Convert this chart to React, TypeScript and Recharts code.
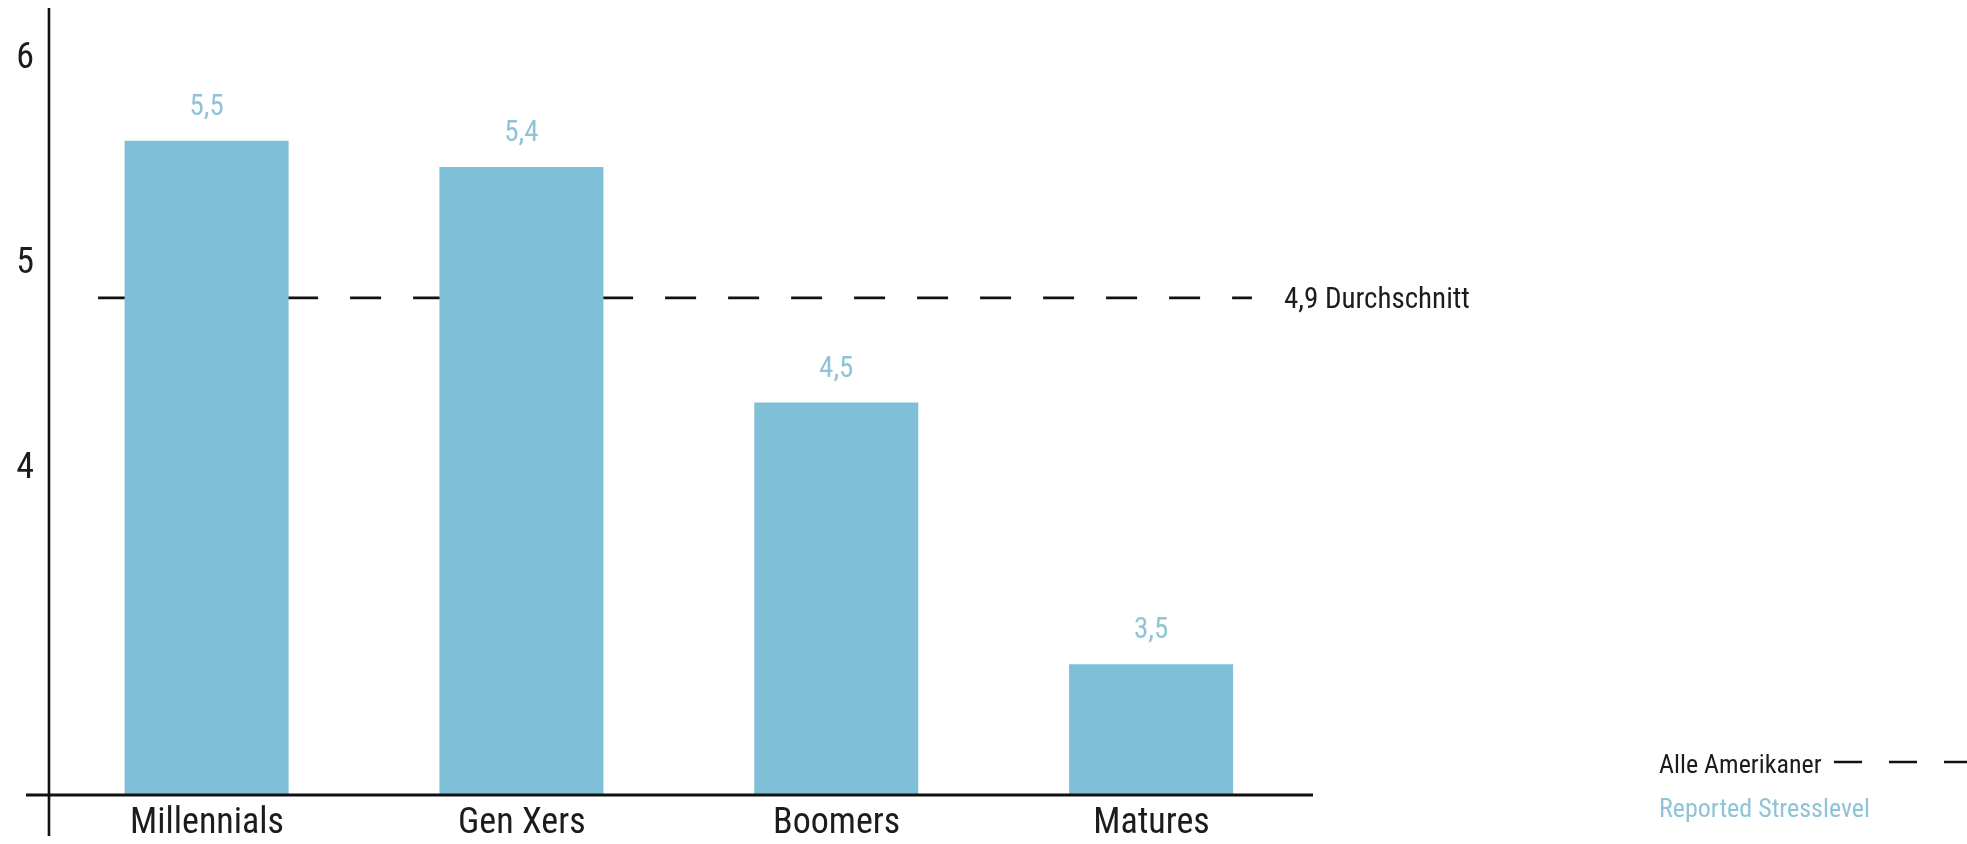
import {
  BarChart,
  Bar,
  XAxis,
  YAxis,
  ReferenceLine,
  LabelList,
  Legend,
} from 'recharts';

// Reported stress level by generation (scale 1-10)
const categories = ['Millennials', 'Gen Xers', 'Boomers', 'Matures'];
const stressLevels = [5.5, 5.4, 4.5, 3.5];
const averageAll = 4.9;
const axisTicks = [4, 5, 6];

const FONT = "'Liberation Sans Narrow', 'Roboto Condensed', 'DejaVu Sans Condensed', sans-serif";
const BAR_COLOR = '#7fbfd8';
const LABEL_BLUE = '#8fc3d7';
const INK = '#1c1c1c';

const fmt = (v: number) => v.toFixed(1).replace('.', ',');

const data = categories.map((name, i) => ({
  idx: i,
  name,
  stress: stressLevels[i],
}));

const renderLegend = (props: any) => {
  const item = props.payload && props.payload[0];
  return (
    <svg width={308} height={84} style={{ display: 'block' }}>
      <text x={0} y={33} fontFamily={FONT} fontSize={26} fill={INK}>
        Alle Amerikaner
      </text>
      <line x1={175} x2={308} y1={22} y2={22} stroke="#111" strokeWidth={2.7} strokeDasharray="28 27" />
      <text x={0} y={77} fontFamily={FONT} fontSize={26} fill={LABEL_BLUE}>
        {item ? item.value : 'Reported Stresslevel'}
      </text>
    </svg>
  );
};

const App = () => {
  return (
    <div style={{ position: 'fixed', left: 0, top: 0 }}>
      <BarChart
        width={1967}
        height={844}
        data={data}
        margin={{ top: 10, right: 654, bottom: 0, left: 0 }}
      >
        <XAxis
          dataKey="idx"
          type="number"
          domain={[-0.575, 3.513]}
          allowDataOverflow
          ticks={[0, 1, 2, 3]}
          tickFormatter={(i: number) => categories[i] ?? ''}
          interval={0}
          height={49}
          axisLine={{ stroke: '#111', strokeWidth: 3 }}
          tickLine={false}
          tickMargin={6}
          tick={{ fontFamily: FONT, fontSize: 36, fill: INK }}
        />
        {/* the printed scale numbers do not follow the bar scale, so they get their own axis */}
        <YAxis
          yAxisId="ticks"
          type="number"
          width={26}
          domain={[2.39, 6.22]}
          allowDataOverflow
          ticks={axisTicks}
          interval={0}
          axisLine={false}
          tickLine={false}
          tickMargin={-14}
          tick={{ fontFamily: FONT, fontSize: 36, fill: INK }}
        />
        <YAxis yAxisId="bars" hide width={0} domain={[3, 6]} allowDataOverflow />
        {/* vertical axis line, crossing the baseline */}
        <ReferenceLine
          yAxisId="bars"
          segment={[
            { x: -0.502, y: 6.008 },
            { x: -0.502, y: 2.843 },
          ]}
          stroke="#111"
          strokeWidth={2.6}
          ifOverflow="visible"
        />
        <ReferenceLine
          yAxisId="bars"
          segment={[
            { x: -0.346, y: averageAll },
            { x: 3.319, y: averageAll },
          ]}
          stroke="#111"
          strokeWidth={2.7}
          strokeDasharray="31 32"
          ifOverflow="visible"
          zIndex={0}
          label={{
            value: `${fmt(averageAll)} Durchschnitt`,
            position: 'right',
            offset: 32,
            fontFamily: FONT,
            fontSize: 29,
            fill: INK,
          }}
        />
        <Bar
          yAxisId="bars"
          dataKey="stress"
          name="Reported Stresslevel"
          fill={BAR_COLOR}
          barSize={164}
          isAnimationActive={false}
        >
          <LabelList
            dataKey="stress"
            position="top"
            offset={26}
            formatter={(v: any) => fmt(Number(v))}
            fontFamily={FONT}
            fontSize={29}
            fill={LABEL_BLUE}
          />
        </Bar>
        <Legend
          layout="vertical"
          align="center"
          verticalAlign="middle"
          content={renderLegend}
          wrapperStyle={{ left: 1659, top: 740, width: 308 }}
        />
      </BarChart>
    </div>
  );
};

export default App;
